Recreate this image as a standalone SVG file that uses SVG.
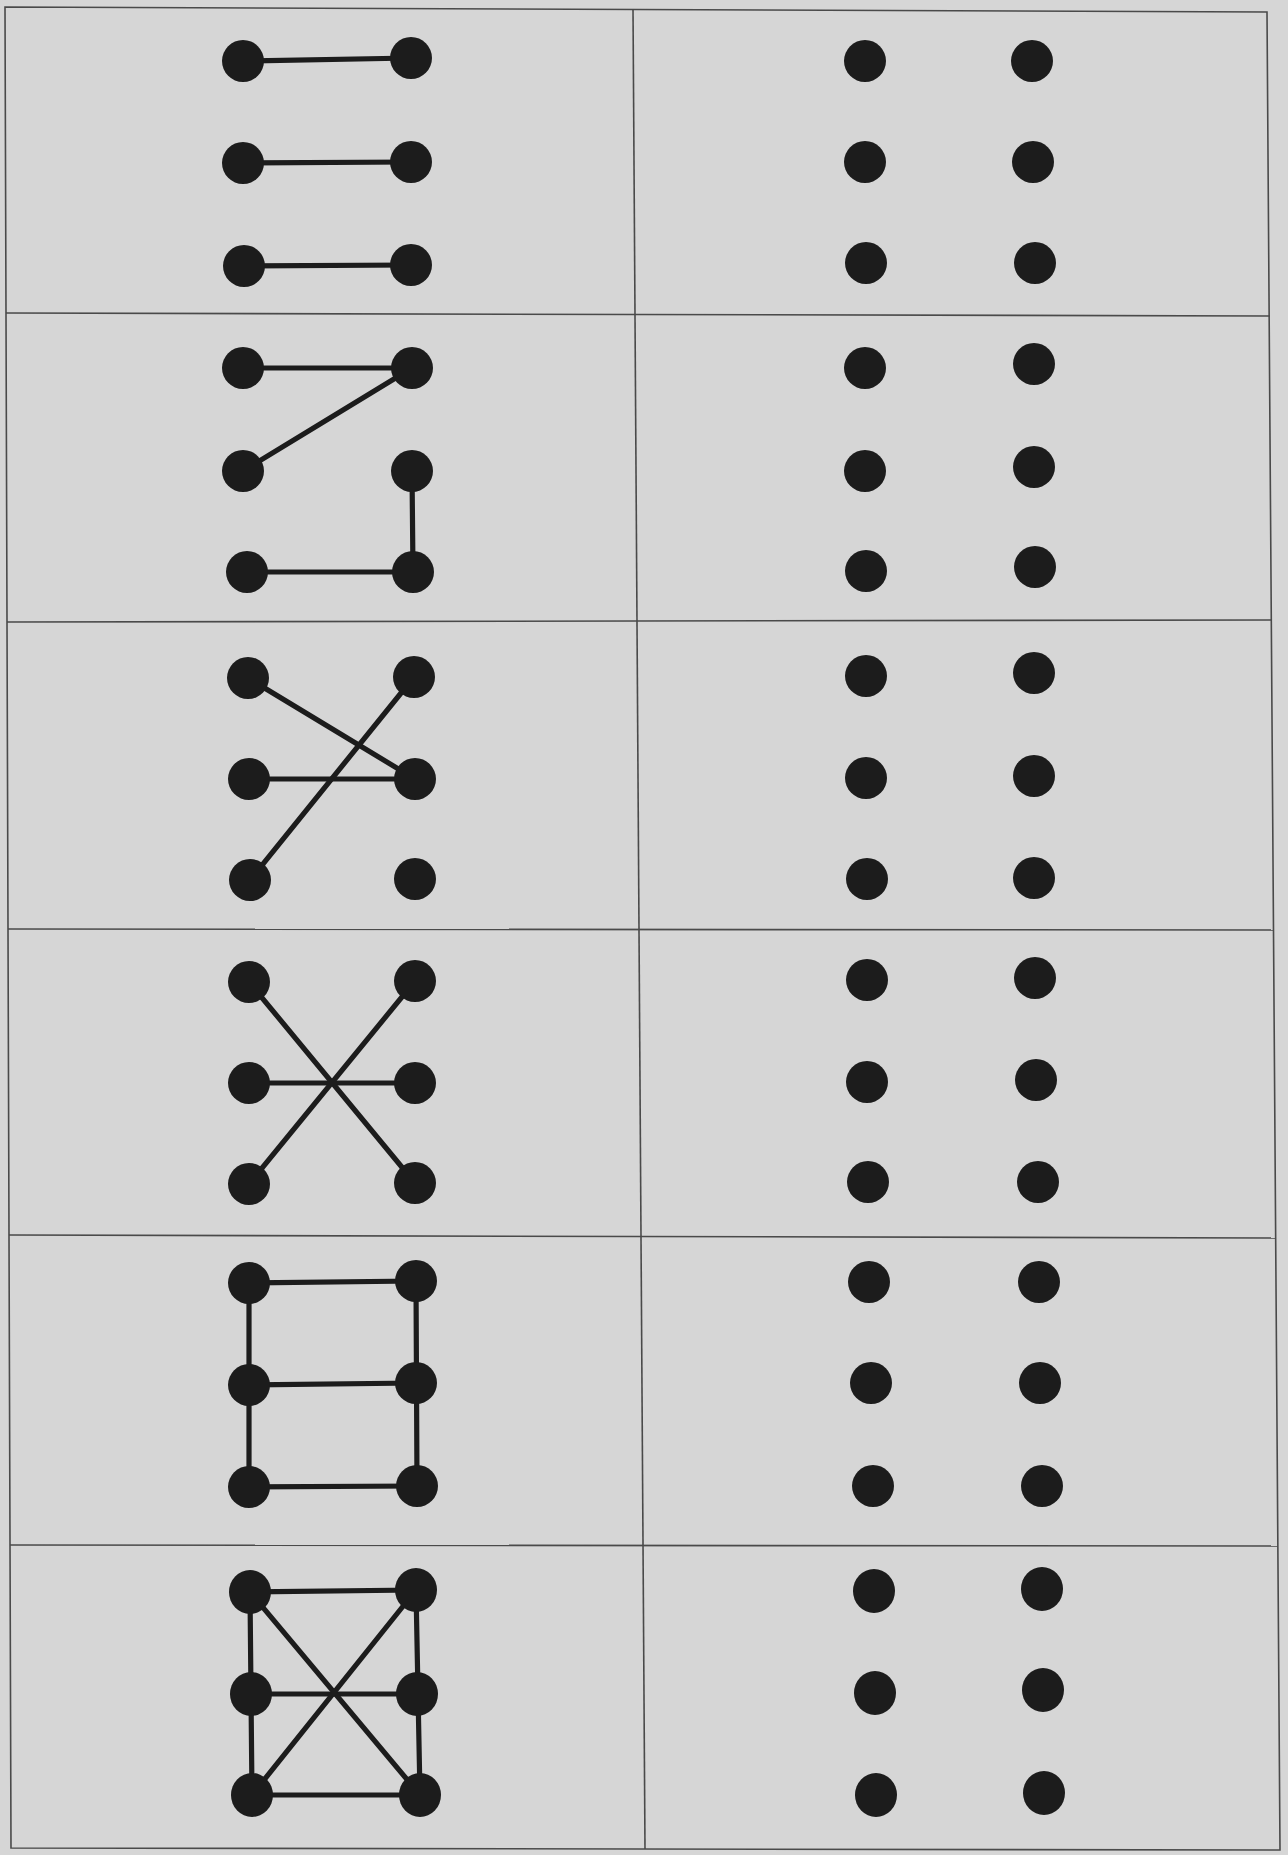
<svg xmlns="http://www.w3.org/2000/svg" width="1288" height="1855" viewBox="0 0 1288 1855">
<style>
.grid{stroke:#4a4a4a;stroke-width:1.6;fill:none}
.dot{fill:#1c1c1c}
.edge{stroke:#1c1c1c;stroke-width:5.2;stroke-linecap:round;fill:none}
</style>
<rect x="0" y="0" width="1288" height="1855" fill="#d6d6d6"/>
<g id="table">
<polygon class="grid" points="5,7 1267,12 1280,1850 11,1848"/>
<line class="grid" x1="633" y1="9" x2="645" y2="1849"/>
<line class="grid" x1="6" y1="313" x2="1270" y2="316"/>
<line class="grid" x1="7" y1="622" x2="1272" y2="620"/>
<line class="grid" x1="8" y1="929" x2="1274" y2="930"/>
<line class="grid" x1="9" y1="1235" x2="1276" y2="1238"/>
<line class="grid" x1="10" y1="1545" x2="1278" y2="1546"/>
</g>
<g id="connectors">
<line class="edge" x1="243" y1="61" x2="411" y2="58"/>
<line class="edge" x1="243" y1="163" x2="411" y2="162"/>
<line class="edge" x1="244" y1="266" x2="411" y2="265"/>
<line class="edge" x1="243" y1="368" x2="412" y2="368"/>
<line class="edge" x1="412" y1="368" x2="243" y2="471"/>
<line class="edge" x1="412" y1="471" x2="413" y2="572"/>
<line class="edge" x1="247" y1="572" x2="413" y2="572"/>
<line class="edge" x1="248" y1="678" x2="415" y2="779"/>
<line class="edge" x1="414" y1="677" x2="250" y2="880"/>
<line class="edge" x1="249" y1="779" x2="415" y2="779"/>
<line class="edge" x1="249" y1="982" x2="415" y2="1183"/>
<line class="edge" x1="415" y1="981" x2="249" y2="1184"/>
<line class="edge" x1="249" y1="1083" x2="415" y2="1083"/>
<line class="edge" x1="249" y1="1283" x2="416" y2="1281"/>
<line class="edge" x1="249" y1="1385" x2="416" y2="1383"/>
<line class="edge" x1="249" y1="1487" x2="417" y2="1486"/>
<line class="edge" x1="249" y1="1283" x2="249" y2="1487"/>
<line class="edge" x1="416" y1="1281" x2="417" y2="1486"/>
<line class="edge" x1="250" y1="1592" x2="416" y2="1590"/>
<line class="edge" x1="251" y1="1694" x2="417" y2="1694"/>
<line class="edge" x1="252" y1="1795" x2="420" y2="1795"/>
<line class="edge" x1="250" y1="1592" x2="252" y2="1795"/>
<line class="edge" x1="416" y1="1590" x2="420" y2="1795"/>
<line class="edge" x1="250" y1="1592" x2="420" y2="1795"/>
<line class="edge" x1="416" y1="1590" x2="252" y2="1795"/>
</g>
<g id="row1-left"><circle class="dot" cx="243" cy="61" r="21"/><circle class="dot" cx="411" cy="58" r="21"/><circle class="dot" cx="243" cy="163" r="21"/><circle class="dot" cx="411" cy="162" r="21"/><circle class="dot" cx="244" cy="266" r="21"/><circle class="dot" cx="411" cy="265" r="21"/></g>
<g id="row2-left"><circle class="dot" cx="243" cy="368" r="21"/><circle class="dot" cx="412" cy="368" r="21"/><circle class="dot" cx="243" cy="471" r="21"/><circle class="dot" cx="412" cy="471" r="21"/><circle class="dot" cx="247" cy="572" r="21"/><circle class="dot" cx="413" cy="572" r="21"/></g>
<g id="row3-left"><circle class="dot" cx="248" cy="678" r="21"/><circle class="dot" cx="414" cy="677" r="21"/><circle class="dot" cx="249" cy="779" r="21"/><circle class="dot" cx="415" cy="779" r="21"/><circle class="dot" cx="250" cy="880" r="21"/><circle class="dot" cx="415" cy="879" r="21"/></g>
<g id="row4-left"><circle class="dot" cx="249" cy="982" r="21"/><circle class="dot" cx="415" cy="981" r="21"/><circle class="dot" cx="249" cy="1083" r="21"/><circle class="dot" cx="415" cy="1083" r="21"/><circle class="dot" cx="249" cy="1184" r="21"/><circle class="dot" cx="415" cy="1183" r="21"/></g>
<g id="row5-left"><circle class="dot" cx="249" cy="1283" r="21"/><circle class="dot" cx="416" cy="1281" r="21"/><circle class="dot" cx="249" cy="1385" r="21"/><circle class="dot" cx="416" cy="1383" r="21"/><circle class="dot" cx="249" cy="1487" r="21"/><circle class="dot" cx="417" cy="1486" r="21"/></g>
<g id="row6-left"><ellipse class="dot" cx="250" cy="1592" rx="21" ry="22"/><ellipse class="dot" cx="416" cy="1590" rx="21" ry="22"/><ellipse class="dot" cx="251" cy="1694" rx="21" ry="22"/><ellipse class="dot" cx="417" cy="1694" rx="21" ry="22"/><ellipse class="dot" cx="252" cy="1795" rx="21" ry="22"/><ellipse class="dot" cx="420" cy="1795" rx="21" ry="22"/></g>
<g id="row1-right"><circle class="dot" cx="865" cy="61" r="21"/><circle class="dot" cx="1032" cy="61" r="21"/><circle class="dot" cx="865" cy="162" r="21"/><circle class="dot" cx="1033" cy="162" r="21"/><circle class="dot" cx="866" cy="263" r="21"/><circle class="dot" cx="1035" cy="263" r="21"/></g>
<g id="row2-right"><circle class="dot" cx="865" cy="368" r="21"/><circle class="dot" cx="1034" cy="364" r="21"/><circle class="dot" cx="865" cy="471" r="21"/><circle class="dot" cx="1034" cy="467" r="21"/><circle class="dot" cx="866" cy="571" r="21"/><circle class="dot" cx="1035" cy="567" r="21"/></g>
<g id="row3-right"><circle class="dot" cx="866" cy="676" r="21"/><circle class="dot" cx="1034" cy="673" r="21"/><circle class="dot" cx="866" cy="778" r="21"/><circle class="dot" cx="1034" cy="776" r="21"/><circle class="dot" cx="867" cy="879" r="21"/><circle class="dot" cx="1034" cy="878" r="21"/></g>
<g id="row4-right"><circle class="dot" cx="867" cy="980" r="21"/><circle class="dot" cx="1035" cy="978" r="21"/><circle class="dot" cx="867" cy="1082" r="21"/><circle class="dot" cx="1036" cy="1080" r="21"/><circle class="dot" cx="868" cy="1182" r="21"/><circle class="dot" cx="1038" cy="1182" r="21"/></g>
<g id="row5-right"><circle class="dot" cx="869" cy="1282" r="21"/><circle class="dot" cx="1039" cy="1282" r="21"/><circle class="dot" cx="871" cy="1383" r="21"/><circle class="dot" cx="1040" cy="1383" r="21"/><circle class="dot" cx="873" cy="1486" r="21"/><circle class="dot" cx="1042" cy="1486" r="21"/></g>
<g id="row6-right"><ellipse class="dot" cx="874" cy="1591" rx="21" ry="22"/><ellipse class="dot" cx="1042" cy="1589" rx="21" ry="22"/><ellipse class="dot" cx="875" cy="1693" rx="21" ry="22"/><ellipse class="dot" cx="1043" cy="1690" rx="21" ry="22"/><ellipse class="dot" cx="876" cy="1795" rx="21" ry="22"/><ellipse class="dot" cx="1044" cy="1793" rx="21" ry="22"/></g>
</svg>
